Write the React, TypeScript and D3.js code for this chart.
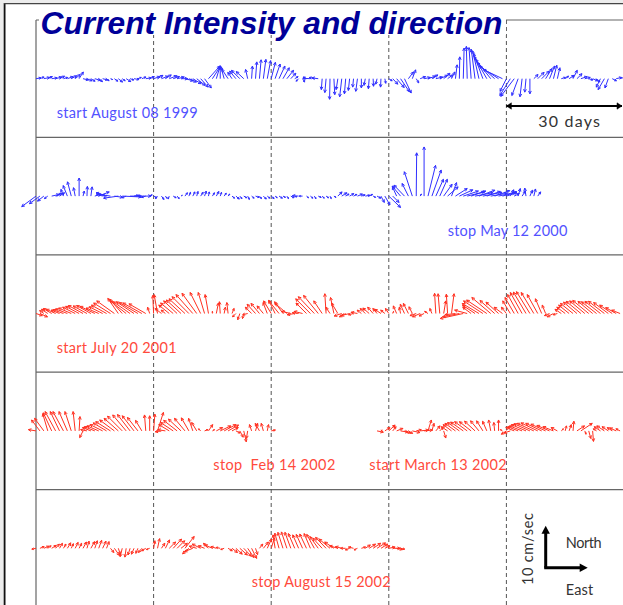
import React from 'react'
import * as d3 from 'd3'

const W = 623
const H = 605
const BLUE = '#2f2fff'
const BLUE_TEXT = '#5252ff'
const RED = '#ff3020'
const RED_TEXT = '#ff4a3c'

// daily current vectors, east (u) and north (v) components in cm/sec
// row 1 : start August 08 1999
const row1U = [
  1.2, 1.0, 1.4, 1.1, 1.3, 1.5, 1.2, 1.0, 1.4, 1.3,
  1.2, 1.0, 1.3, 1.2, 1.0, 1.4, 0.9, 1.2, 0.6, 0.5,
  0.8, 1.0, 0.7, 1.1, 0.9, 1.2, 0.8, 1.0, 1.3, 1.1,
  1.5, 1.3, 1.6, 1.4, 1.8, 1.5, 1.7, 1.6, 2.0, 1.8,
  2.0, 2.0, 1.8, 1.6, 2.7, 1.8, 0.9, 0.0, -0.8, -1.5,
  -1.0, -1.5, -2.0, -1.8, -0.5, 0.2, 0.3, 0.4, 0.6, 0.8,
  1.0, 1.2, 1.4, 1.5, 1.6, 1.2, 0.8, -0.6, 0.5, -0.8,
  -1.8, -1.2, -1.5, -0.2, -0.3, -0.1, 0.2, -0.4, -0.5, -0.3,
  -0.3, -0.2, -0.4, 0.0, -0.3, -0.2, 0.1, -0.3, -0.1, 0.2,
  0.8, 1.2, 1.8, 2.1, 1.6, 1.2, 0.8, 0.6, 1.3, 1.5,
  1.8, 1.4, 1.6, 1.9, 1.5, 1.2, 0.8, 0.4, 0.1, 0.2,
  -0.2, -0.5, -0.9, -1.5, -2.2, -3.0, -3.6, -4.2, -4.6, -4.6,
  -1.5, -2.5, -3.2, -1.5, -0.5, -0.3, 0.0, 1.0, 1.5, 1.8,
  1.5, 1.2, 0.8, 0.6, 1.0, 0.8, 1.2, 1.0, 1.2, 1.5,
  1.3, 1.0, 1.2, 0.8, -1.0, -1.5, -0.8, 1.0, 1.3, 1.5,
]
const row1V = [
  0.2, 0.4, 0.3, 0.5, 0.2, 0.4, 0.6, 0.3, 0.5, 0.7,
  1.0, 1.6, -0.3, -0.5, -0.6, -0.4, -0.7, -0.3, -0.5, -0.2,
  -0.6, -0.8, -0.5, -0.7, -0.3, -0.2, 0.3, 0.4, 0.2, 0.5,
  0.5, 0.8, 0.6, 0.9, 0.7, 0.5, 0.4, 0.0, -0.5, -0.8,
  -1.2, -1.6, -2.0, -2.2, 3.0, 2.8, 3.0, 3.1, 2.9, 2.3,
  1.5, 1.8, 2.0, 1.7, 2.2, 3.0, 4.0, 4.5, 4.6, 4.3,
  3.9, 3.5, 3.0, 2.6, 2.0, 1.3, 0.5, -0.6, -0.8, 0.4,
  0.1, 0.3, 0.2, -2.6, -3.3, -4.9, -3.8, -2.6, -4.3, -3.6,
  -2.8, -2.0, -3.0, -2.2, -1.6, -2.4, -1.8, -1.3, -2.0, -1.1,
  -0.5, -1.3, -2.1, -3.1, -3.4, 1.6, 2.1, -1.0, 0.5, 0.3,
  0.6, 0.9, 0.4, 0.8, 1.3, 0.9, 1.6, 3.3, 5.2, 7.3,
  7.7, 7.4, 7.0, 6.6, 6.0, 5.3, 4.6, 3.8, 3.0, 2.2,
  -3.0, -4.0, -4.2, -4.0, -4.3, -3.2, -3.6, 1.0, 1.5, 1.8,
  2.4, 3.0, 3.2, 2.6, 0.3, 0.6, 0.8, 2.0, 1.2, 0.5,
  0.3, -0.3, -0.5, -0.8, -2.0, -2.6, -2.2, -0.5, 0.3, 0.5,
]

// row 2 : ... stop May 12 2000
const row2U = [
  -3.4, -2.5, -1.5, -0.8, 1.8, 1.5, 1.2, -0.6, -1.0, -0.9,
  -0.4, 0.0, 0.3, 0.1, 0.3, 1.5, 2.5, -1.5, -2.5, -2.0,
  2.0, -3.5, 4.5, -1.0, 5.0, 1.0, 0.8, -0.8, -1.0, 0.6,
  0.8, -0.5, 0.6, 0.4, -0.3, 0.7, 0.5, 0.3, 0.6, 0.4,
  0.5, 0.3, 0.6, 0.4, 0.2, 0.5, 0.6, 0.3, 0.5, 0.4,
  0.6, 0.8, 0.5, 0.7, 0.4, 0.6, 0.9, 0.5, 0.7, 0.6,
  0.7, 0.5, 0.8, 0.6, 0.4, 0.7, 0.5, -1.5, -0.8, 0.5,
  0.6, 0.4, 0.7, 0.5, 0.6, 0.3, 0.5, 1.0, 1.2, 0.8,
  1.0, 0.8, 1.2, 0.9, 1.1, 0.8, 0.6, 0.9, 0.8, 1.2,
  2.8, 1.5, -1.0, -2.0, -2.5, -1.5, -1.9, 0.1, 0.3, 0.0,
  1.8, 2.2, 1.8, 1.8, 2.0, 2.5, 1.2, 2.8, 3.2, 3.6,
  4.0, 3.5, 4.2, 3.8, 4.5, 3.2, 4.0, 3.6, 4.4, 3.0,
  2.5, 0.8, 1.2, 0.5, 0.8, -0.3, 0.6, 0.4, 0.7,
]
const row2V = [
  -2.5, -1.8, -1.2, -0.6, 0.4, 0.6, 0.8, 1.6, 2.5, 3.4,
  2.0, 4.3, 1.2, 2.3, 2.2, 0.5, 1.0, 0.5, 0.8, 0.3,
  -0.3, -0.5, -0.2, -0.4, 0.0, 0.2, -0.2, 0.2, -0.3, 0.3,
  -0.4, -0.6, -0.8, -0.5, -0.7, -0.4, -0.6, 0.2, 0.8, 0.9,
  1.0, 1.1, 0.9, 1.2, 1.0, 0.8, 1.1, 0.9, 0.7, 0.5,
  -0.5, -0.7, -0.6, -0.4, -0.8, -0.5, -0.3, -0.6, -0.7, -0.5,
  -0.6, -0.4, -0.5, -0.3, -0.6, -0.4, -0.2, 0.1, 0.0, -0.4,
  -0.5, -0.6, -0.3, -0.5, -0.4, -0.6, -0.3, 1.0, 0.8, 0.5,
  0.6, 0.4, 0.5, 0.3, 0.2, 0.4, -0.3, -0.5, -1.5, -2.1,
  -2.7, -1.5, 2.2, 2.4, 2.6, 3.0, 5.8, 10.3, 0.5, 11.7,
  7.3, 6.2, 4.0, 4.0, 2.8, 2.2, 3.2, 1.8, 1.5, 1.2,
  1.0, 1.2, 0.8, 1.4, 0.9, 1.1, 0.7, 1.3, 1.0, 0.8,
  0.8, 1.5, 0.6, 1.8, 1.2, 1.9, 1.4, 1.7, 1.0,
]

// row 3 : start July 20 2001
const row3U = [
  1.5, 1.8, -1.0, -1.5, -2.0, -2.2, -2.0, -2.5, -2.8, -3.0,
  -3.0, -3.2, -3.5, -3.3, -3.4, -3.5, -3.0, -3.2, -3.6, -4.0,
  -4.2, -2.5, -3.0, -3.8, -4.0, -4.2, -4.4, -4.5, -4.0, -0.5,
  -0.2, -0.8, -1.5, -1.0, -2.5, -3.0, -3.2, -3.5, -3.8, -4.0,
  -4.0, -3.5, -2.5, -1.5, -0.8, 0.0, 0.5, -0.2, 0.3, -0.3,
  0.5, -0.8, -0.5, -0.3, -1.2, -1.5, -2.0, -2.0, -1.5, -1.0,
  -1.8, -1.5, -2.5, -2.0, -2.8, -2.2, -1.8, -1.5, -2.0, -2.5,
  -3.5, -3.8, -3.5, -2.0, -0.3, -1.0, -0.8, -1.5, -1.8, -1.5,
  -2.0, -1.2, -1.5, -1.0, -1.2, -1.5, -1.3, -1.0, -1.5, -1.0,
  -0.8, 0.2, -0.8, -0.3, -1.0, -1.2, -0.8, -1.5, -1.8, -1.2,
  -0.8, -0.5, -0.3, -0.4, 0.5, -0.3, 0.6, -2.5, -4.0, -5.5,
  -3.0, -2.0, -3.0, -4.0, -4.6, -4.8, -4.5, -3.5, -3.0, -2.0,
  -1.2, -1.8, -2.2, -2.5, -2.8, -3.0, -3.2, -3.0, -2.5, -1.5,
  -0.8, -1.2, -1.5, -1.0, -1.5, -2.0, -2.5, -3.0, -3.2, -3.5,
  -3.6, -3.8, -3.5, -3.6, -3.7, -3.8, -3.5, -3.0, -2.5, -2.0,
]
const row3V = [
  -0.5, -0.8, 0.7, 1.0, 1.2, 1.0, 0.8, 0.9, 1.1, 1.3,
  1.5, 1.7, 1.9, 1.8, 1.9, 1.7, 1.3, 1.6, 2.0, 2.5,
  3.0, 3.6, 3.4, 3.0, 2.8, 2.8, 2.6, 2.5, 2.3, 1.5,
  4.3, 4.5, 1.2, 0.8, 2.0, 2.5, 3.0, 3.2, 3.5, 4.0,
  4.5, 4.8, 5.0, 5.0, 4.5, 0.5, 2.5, 2.8, 1.5, 2.6,
  1.2, -0.8, -1.5, -1.2, -0.3, 1.5, 2.2, 2.4, 1.8, 2.6,
  3.0, 3.1, 3.1, 2.8, 2.4, 0.5, -0.3, 0.2, 0.5, 2.5,
  3.5, 4.0, 4.3, 3.0, 4.7, 1.5, 3.8, 2.5, -0.6, -0.8,
  -0.5, -0.3, 0.3, 0.8, 1.2, 1.3, 1.5, 1.2, 1.0, 0.8,
  1.2, 0.5, 1.8, 1.5, 2.2, 2.4, 1.6, -0.5, -0.8, -0.6,
  0.5, 1.2, 4.8, 4.7, 3.0, 4.6, 4.7, -0.3, -0.8, -1.2,
  0.8, 1.5, 2.0, 2.4, 3.0, 3.2, 3.8, 3.1, 2.7, 1.5,
  1.5, 3.0, 3.8, 4.5, 5.0, 5.1, 5.2, 5.0, 4.5, 3.5,
  2.0, -0.5, -0.8, -0.3, 1.0, 1.5, 2.0, 2.4, 2.7, 2.9,
  3.0, 3.1, 2.9, 2.8, 2.9, 2.9, 2.6, 2.0, 1.4, 0.8,
]

// row 4 : ... stop Feb 14 2002
const row4aU = [
  -1.8, -2.0, -2.2, -1.2, -2.0, -2.5, -2.2, -2.5, -2.0, -1.5,
  -0.5, 0.2, -0.8, -1.5, -2.0, -2.5, -2.8, -3.0, -3.2, -3.5,
  -3.5, -3.4, -3.5, -3.2, -3.0, -2.8, -2.5, -1.5, -0.3, 0.0,
  0.3, 1.4, -1.5, -1.8, -2.5, -3.0, -3.2, -3.0, -2.5, -1.8,
  -1.0, -1.2, -0.5, 0.8, 1.0, 0.5, 1.5, 2.5, 2.8, 2.5,
  1.5, 1.0, 0.8, 0.6, -0.3, -0.5, 0.5, -1.0, -0.5, 0.3, 1.0,
]
const row4aV = [
  0.3, 2.6, 3.0, 4.1, 4.3, 4.6, 4.6, 4.6, 4.6, 4.6,
  4.6, 3.4, -1.6, 0.3, 0.8, 1.0, 1.2, 1.5, 1.9, 2.2,
  2.6, 3.0, 3.5, 3.8, 3.9, 3.6, 3.2, 2.5, 3.8, 3.6,
  4.0, 4.4, -0.2, 0.3, 1.5, 2.0, 2.5, 2.8, 3.0, 3.1,
  3.0, 2.0, 0.5, 0.3, 1.5, 0.3, 0.8, 1.2, 1.5, 1.4,
  0.8, -0.5, -1.5, -2.6, -1.8, 1.5, 1.8, 1.8, 1.8, 1.5, 0.2,
]
// row 4 : start March 13 2002 (day 87 of the row)
const row4bU = [
  1.5, 0.3, 1.2, 1.5, 0.8, 1.5, 1.8, 1.5, 1.0, 1.8,
  1.2, 2.0, 2.0, 0.8, 0.5, 1.0, 0.8, 0.5, -1.5, -2.0,
  -2.5, -2.8, -3.0, -3.0, -2.8, -2.5, -2.0, -1.5, -1.0, -0.5,
  -0.2, 0.0, -0.5, -1.2, -1.5, -2.0, -2.5, -3.0, -3.5, -3.8,
  -4.0, -4.0, -3.8, -3.5, -3.0, -2.5, -1.5, 0.5, 0.3, 0.5,
  0.2, 1.8, 2.7, 0.3, 0.5, 0.2, -0.8, -1.5, -1.8, -1.5,
  -1.2, -1.5, -1.0,
]
const row4bV = [
  -0.3, 0.2, 0.8, 1.4, 1.0, 0.6, -0.3, -0.5, -0.6, -0.4,
  0.3, 0.2, 0.2, 2.6, 1.8, 1.2, 0.8, -1.7, 1.0, 1.5,
  1.8, 2.0, 2.1, 2.2, 2.2, 2.3, 2.4, 2.4, 2.3, 2.6,
  2.0, 2.6, 0.3, -0.8, -0.5, 0.8, 1.0, 1.2, 1.5, 1.7,
  1.8, 1.9, 1.8, 1.6, 1.3, 1.0, 0.8, 0.5, 1.2, 1.5,
  2.3, 1.2, 1.8, -0.8, -1.8, -2.5, 0.5, 1.0, 1.2, 1.0,
  0.8, 0.7, 0.5,
]

// row 5 : ... stop August 15 2002
const row5U = [
  -1.0, 1.0, 1.2, 0.8, 1.1, 0.9, 0.7, 0.6, 0.8, 0.5,
  0.7, 0.6, 0.8, 0.5, 0.9, 0.6, 0.7, 0.8, 0.6, 0.8,
  1.2, 0.5, -0.5, -0.3, -0.5, -0.6, -0.5, -0.8, -1.0, -0.8,
  0.3, 0.5, 0.8, 1.0, 1.5, 2.0, 1.8, 1.5, 2.2, -1.5,
  -2.0, -1.8, -2.0, -1.5, -1.2, -1.8, -1.3, -1.0, -0.8, 1.0,
  1.3, 1.5, 1.8, 1.8, 1.5, 1.2, 0.5, 0.8, 1.2, 1.0,
  0.8, -0.5, -1.0, -1.2, -1.3, -1.4, -1.5, -1.4, -1.5, -1.6,
  -1.5, -1.8, -2.0, -2.2, -2.5, -2.6, -2.2, -2.0, -1.5, -1.2,
  -1.0, -1.2, -0.8, 1.0, 1.2, 1.5, 1.8, 2.0, 1.6, 1.2,
  1.5, 1.8, 1.4, 1.0,
]
const row5V = [
  -0.2, 0.4, 0.5, 0.6, 0.7, 1.0, 1.2, 1.0, 1.3, 1.1,
  1.4, 1.2, 1.5, 1.7, 1.6, 1.8, 1.9, 1.7, 1.6, -1.0,
  -1.7, -1.5, -2.0, -2.1, -1.6, -1.4, -1.2, -1.0, -0.6, -0.3,
  1.8, 2.3, 1.2, 2.0, 1.5, 2.2, 1.8, 1.2, 2.8, -1.3,
  -0.8, 0.5, 1.0, 0.6, 1.2, 0.8, 0.4, 0.2, -0.3, -0.6,
  -1.0, -1.4, -1.6, -1.9, -2.2, -2.4, -1.5, 1.0, 1.5, 2.2,
  2.5, 3.2, 3.6, 3.8, 3.9, 3.8, 3.5, 3.2, 3.3, 3.4,
  3.5, 3.3, 2.8, 2.4, 2.6, 2.2, 1.5, 0.6, 0.4, 0.0,
  -0.4, 0.3, -0.4, 0.3, 0.8, 1.0, 1.2, 1.3, 1.0, 0.6,
  0.3, 0.0, -0.3, -0.2,
]

const series = [
  { panel: 0, start: 0, u: row1U, v: row1V, color: BLUE },
  { panel: 1, start: 0, u: row2U, v: row2V, color: BLUE },
  { panel: 2, start: 0, u: row3U, v: row3V, color: RED },
  { panel: 3, start: 0, u: row4aU, v: row4aV, color: RED },
  { panel: 3, start: 87, u: row4bU, v: row4bV, color: RED },
  { panel: 4, start: 0, u: row5U, v: row5V, color: RED },
]

const gridDays = [30, 60, 90, 120]
const LABEL_FONT = "Lato, 'Open Sans', sans-serif"

const App = () => {
  const x = d3.scaleLinear().domain([0, 150]).range([36, 624])
  const panelTop = d3.scaleLinear().domain([0, 5]).range([20, 607])
  const speed = d3.scaleLinear().domain([0, 10]).range([0, 42])
  const panelH = panelTop(1) - panelTop(0)

  const arrow = (x0, y0, u, v) => {
    const dx = speed(u)
    const dy = -speed(v)
    const len = Math.hypot(dx, dy)
    if (len < 0.4) return ''
    const x1 = x0 + dx
    const y1 = y0 + dy
    const h = Math.min(3.2, len * 0.5)
    const a = Math.atan2(dy, dx)
    const p1 = [x1 + h * Math.cos(a + Math.PI - 0.45), y1 + h * Math.sin(a + Math.PI - 0.45)]
    const p2 = [x1 + h * Math.cos(a + Math.PI + 0.45), y1 + h * Math.sin(a + Math.PI + 0.45)]
    return `M${x0},${y0}L${x1},${y1}M${p1[0]},${p1[1]}L${x1},${y1}L${p2[0]},${p2[1]}`
  }

  // legend corner
  const lx = 545.7
  const ly = 567.7

  return (
    <svg width={W} height={H} style={{ position: 'absolute', left: 0, top: 0 }}>
      <rect width={W} height={H} fill="#ececec" />
      <rect x={5} y={4} width={W} height={H} fill="#fff" />
      <line x1={4.6} x2={4.6} y1={3} y2={H} stroke="#111" strokeWidth={1.8} />
      <line x1={4} x2={W} y1={3.7} y2={3.7} stroke="#444" strokeWidth={1.2} />

      {/* panel frames */}
      <g stroke="#666" strokeWidth={1.2}>
        {d3.range(6).map((i) => (
          <line key={i} x1={x(0)} x2={W} y1={panelTop(i)} y2={panelTop(i)} />
        ))}
        <line x1={x(0)} x2={x(0)} y1={panelTop(0)} y2={H} />
      </g>
      <g stroke="#555" strokeWidth={1} strokeDasharray="4 3">
        {gridDays.map((d) => (
          <line key={d} x1={x(d)} x2={x(d)} y1={panelTop(0)} y2={H} />
        ))}
      </g>

      {/* current vectors */}
      {series.map((s, k) => {
        const y0 = panelTop(s.panel) + panelH / 2
        const d = s.u.map((u, i) => arrow(x(s.start + i), y0, u, s.v[i])).join('')
        return <path key={k} d={d} fill="none" stroke={s.color} strokeWidth={1} />
      })}

      {/* title */}
      <rect x={39} y={6} width={467} height={29} fill="#fff" />
      <text
        x={40.5}
        y={34}
        fontFamily="'Liberation Sans', Arial, sans-serif"
        fontWeight="bold"
        fontStyle="italic"
        fontSize={31.5}
        fill="#000099"
        textLength={462}
        lengthAdjust="spacingAndGlyphs"
      >
        Current Intensity and direction
      </text>

      <g fontFamily={LABEL_FONT} fontSize={14.5}>
        <text x={56.7} y={118.3} fill={BLUE_TEXT} textLength={141}>start August 08 1999</text>
        <text x={447.7} y={236} fill={BLUE_TEXT} textLength={119.6}>stop May 12 2000</text>
        <text x={56.7} y={352.7} fill={RED_TEXT} textLength={120}>start July 20 2001</text>
        <text x={213.3} y={470} fill={RED_TEXT} textLength={122} style={{ whiteSpace: 'pre' }}>{'stop  Feb 14 2002'}</text>
        <text x={369.3} y={470} fill={RED_TEXT} textLength={137.4}>start March 13 2002</text>
        <text x={251.7} y={586.7} fill={RED_TEXT} textLength={139}>stop August 15 2002</text>
        <text x={538.3} y={126.7} fill="#333" fontSize={16} textLength={61.7}>30 days</text>
        <text x={565.7} y={548.3} fill="#333" textLength={36}>North</text>
        <text x={565.7} y={595} fill="#333" textLength={27.6}>East</text>
        <text
          transform={`translate(532.5,585) rotate(-90)`}
          fill="#333"
          textLength={72}
        >
          10 cm/sec
        </text>
      </g>

      {/* 30 days scale bar */}
      <g fill="#000" stroke="#000">
        <line x1={x(120)} x2={x(150) - 2} y1={106} y2={106} strokeWidth={2} />
        <path d={`M${x(120)},106l5,-3.2v6.4z`} strokeWidth={0.5} />
        <path d={`M${x(150) - 2},106l-5,-3.2v6.4z`} strokeWidth={0.5} />
      </g>

      {/* 10 cm/sec legend */}
      <g fill="#000" stroke="#000">
        <line x1={lx} x2={lx} y1={ly} y2={ly - speed(10) + 6} strokeWidth={3} />
        <line x1={lx - 1.5} x2={lx + speed(10) - 6} y1={ly} y2={ly} strokeWidth={3} />
        <path d={`M${lx},${ly - speed(10)}l-4.2,8h8.4z`} stroke="none" />
        <path d={`M${lx + speed(10)},${ly}l-8,-4.2v8.4z`} stroke="none" />
      </g>
    </svg>
  )
}

export default App
